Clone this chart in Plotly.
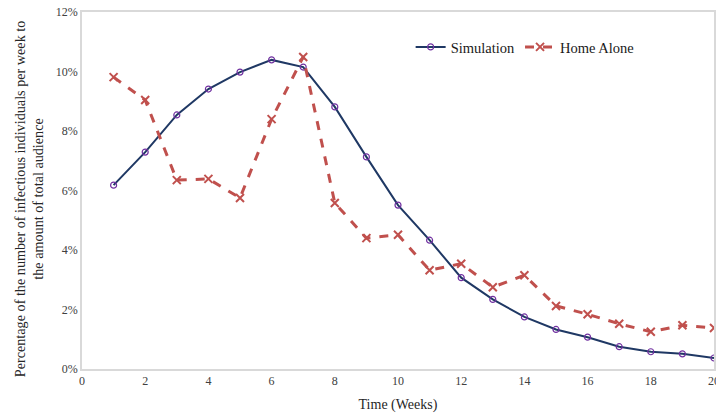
import plotly.graph_objects as go

weeks = list(range(1, 21))
simulation = [6.18, 7.29, 8.54, 9.41, 9.98, 10.39, 10.15, 8.81, 7.13, 5.51,
              4.33, 3.07, 2.34, 1.75, 1.33, 1.07, 0.75, 0.58, 0.51, 0.37]
home_alone = [9.81, 9.04, 6.35, 6.39, 5.75, 8.40, 10.49, 5.58, 4.40, 4.51,
              3.32, 3.54, 2.75, 3.15, 2.12, 1.84, 1.52, 1.25, 1.47, 1.38]
x_ticks = list(range(0, 21, 2))
y_ticks = [0, 2, 4, 6, 8, 10, 12]
y_labels = [f"{v}%" for v in y_ticks]
y_title = "Percentage of the number of infectious individuals per week to<br>the amount of total audience"

font = "'Liberation Serif', serif"

fig = go.Figure()
fig.add_trace(go.Scatter(
    x=weeks, y=simulation, name="Simulation", mode="lines+markers",
    line=dict(color="#1F3864", width=2),
    marker=dict(symbol="circle-open", size=6, color="#7030A0", line=dict(width=1.2)),
))
fig.add_trace(go.Scatter(
    x=weeks, y=home_alone, name="Home Alone", mode="lines+markers",
    line=dict(color="#C0504D", width=3, dash="dash"),
    marker=dict(symbol="x-thin-open", size=8, color="#C0504D", line=dict(width=2, color="#C0504D")),
))

fig.update_layout(
    width=716, height=414,
    margin=dict(l=82, r=2, t=12, b=45),
    paper_bgcolor="white", plot_bgcolor="white",
    font=dict(family=font, color="#262626", size=12),
    showlegend=True,
    legend=dict(orientation="h", x=0.52, y=0.902, xanchor="left", yanchor="middle",
                font=dict(family=font, size=14.5, color="#1a1a1a"), bgcolor="rgba(0,0,0,0)",
                itemwidth=30, tracegroupgap=0),
    xaxis=dict(range=[0, 20], tickvals=x_ticks, showgrid=False, zeroline=False,
               showline=True, linecolor="#D9D9D9", linewidth=1.5, mirror=True,
               ticks="", tickfont=dict(family=font, size=12, color="#404040"), automargin=False,
               ticklabeloverflow="allow",
               title=dict(text="Time (Weeks)", font=dict(family=font, size=14), standoff=12)),
    yaxis=dict(range=[0, 12], tickvals=y_ticks, ticktext=y_labels, showgrid=False,
               zeroline=False, showline=True, linecolor="#D9D9D9", linewidth=1.5,
               mirror=True, ticks="", tickfont=dict(family=font, size=12, color="#404040"),
               automargin=False),
)
fig.add_annotation(
    text=y_title, textangle=-90, showarrow=False,
    xref="paper", yref="paper", x=-0.054, xanchor="right", y=0.478, yanchor="middle",
    font=dict(family=font, size=14.2, color="#262626"), align="center",
)

fig.write_html("out.html")
